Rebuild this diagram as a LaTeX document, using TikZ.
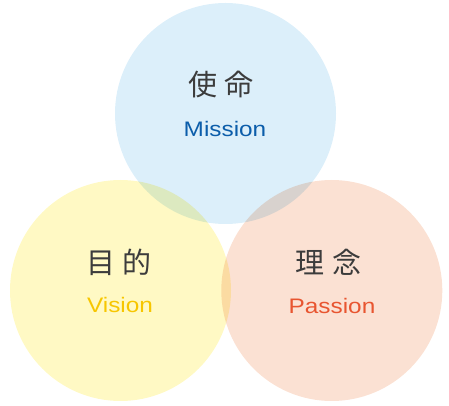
\documentclass[tikz,border=0pt]{standalone}
\usepackage{fontspec}
\setmainfont{Liberation Sans}
\newfontfamily\jpfont{Noto Sans CJK JP}
\newfontfamily\enfont[FakeStretch=1.16]{Liberation Sans}
\usepackage{tikz}

\definecolor{missionbg}{HTML}{DCEFFA}
\definecolor{visionbg}{HTML}{FFF9C4}
\definecolor{passionbg}{HTML}{FBE1D3}
\definecolor{missiontxt}{HTML}{0B5DAA}
\definecolor{visiontxt}{HTML}{F7C600}
\definecolor{passiontxt}{HTML}{E85530}
\definecolor{kanji}{HTML}{3C3C3C}

\begin{document}
\begin{tikzpicture}[x=1pt, y=1pt,
    ring/.style={circle, minimum size=221pt, inner sep=0pt},
    kanjilabel/.style={font=\jpfont\fontsize{29}{29}\selectfont, text=kanji, inner sep=0pt},
    wordlabel/.style={font=\enfont\fontsize{21}{21}\selectfont, inner sep=0pt}]
    \useasboundingbox (0, 0) rectangle (449, 406);

    % The three circles, overlaps multiplied
    \begin{scope}[blend group=multiply]
        \node[ring, fill=missionbg] (mission) at (225.5, 292.5) {};
        \node[ring, fill=visionbg] (vision) at (120.5, 115.5) {};
        \node[ring, fill=passionbg] (passion) at (331.8, 115.5) {};
    \end{scope}

    % Mission
    \node[kanjilabel] (shimei) at (221, 321) {使\hspace{8pt}命};
    \node[wordlabel, text=missiontxt] (missionword) at (225, 277) {Mission};

    % Vision
    \node[kanjilabel] (mokuteki) at (119, 144) {目\hspace{8pt}的};
    \node[wordlabel, text=visiontxt] (visionword) at (120, 101.5) {Vision};

    % Passion
    \node[kanjilabel] (rinen) at (328.5, 143.5) {理\hspace{8pt}念};
    \node[wordlabel, text=passiontxt] (passionword) at (332, 100) {Passion};
\end{tikzpicture}
\end{document}
